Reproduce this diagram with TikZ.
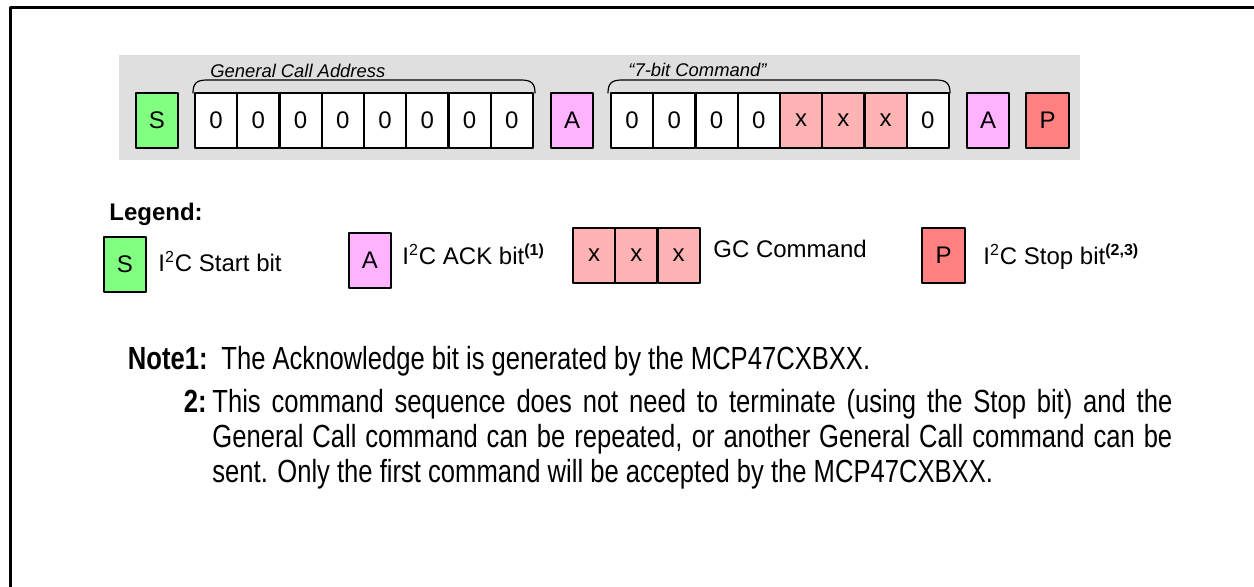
\documentclass[tikz,border=0pt]{standalone}
\usepackage{fontspec}
\setmainfont{Liberation Sans}
\newfontfamily\notefont[FakeStretch=0.80]{Liberation Sans}
\usetikzlibrary{positioning}
\definecolor{startgreen}{HTML}{80FF80}
\definecolor{ackpink}{HTML}{FFB3FF}
\definecolor{cmdred}{HTML}{FFB3B3}
\definecolor{stopred}{HTML}{FF8080}
\definecolor{bandgray}{HTML}{DFDFDF}
\begin{document}
\begin{tikzpicture}[x=0.5pt, y=-0.5pt, line cap=round, line join=round,
    font=\fontsize{12}{14}\selectfont]
	\tikzset{bitbox/.style={draw, line width=1pt, minimum width=21.1pt, minimum height=27.5pt, inner sep=0pt, outer sep=0pt},
		txt/.style={anchor=base west, inner sep=0pt},
		bracelbl/.style={txt, font=\itshape\fontsize{9.2}{11}\selectfont},
		notetext/.style={txt, font=\notefont\fontsize{16}{17.5}\selectfont},
		notelbl/.style={inner sep=0pt, anchor=base east, font=\notefont\bfseries\fontsize{16}{17.5}\selectfont}}
	\useasboundingbox (0,0) rectangle (1254,586);
	\draw[line width=1.5pt, line cap=butt] (10,590) -- (10,7) -- (1258,7);
	\fill[bandgray] (119,55) rectangle (1080,160);
	% frame bits
	\node[bitbox, fill=startgreen] (st) at (157,120.5) {S};
	\foreach \i in {1,...,8}
		\node[bitbox, fill=white] (ga\i) at ({195+21.125+42.25*(\i-1)},120.5) {0};
	\node[bitbox, fill=ackpink] (ack1) at (572,120.5) {A};
	\foreach \v/\c [count=\i] in {0/white,0/white,0/white,0/white,x/cmdred,x/cmdred,x/cmdred,0/white}
		\node[bitbox, fill=\c] (cb\i) at ({611+21.125+42.25*(\i-1)},120.5) {\v};
	\node[bitbox, fill=ackpink] (ack2) at (988,120.5) {A};
	\node[bitbox, fill=stopred] (sp) at (1047.5,120.5) {P};
	% braces
	\draw[line width=0.6pt] (193,93) .. controls (193,83) and (197,80) .. (207,80) -- (521,80) .. controls (531,80) and (535,83) .. (535,93);
	\draw[line width=0.6pt] (608,93) .. controls (608,83) and (612,80) .. (622,80) -- (936,80) .. controls (946,80) and (950,83) .. (950,93);
	\node[bracelbl] (galbl) at (210,77) {General Call Address};
	\node[bracelbl] (cmdlbl) at (628,76) {“7-bit Command”};
	% legend
	\node[txt, font=\bfseries\fontsize{12}{14}\selectfont] (leg) at (109,220) {Legend:};
	\node[bitbox, fill=startgreen] (lst) at (125,264) {S};
	\node[txt] (lsttxt) at (158,271) {I\textsuperscript{2}C Start bit};
	\node[bitbox, fill=ackpink] (lack) at (370,260) {A};
	\node[txt] (lacktxt) at (402,264) {I\textsuperscript{2}C ACK bit\textsuperscript{\bfseries(1)}};
	\foreach \i in {1,2,3}
		\node[bitbox, fill=cmdred] (lcb\i) at ({573+21.125+42.25*(\i-1)},255.5) {x};
	\node[txt] (lcbtxt) at (713,257) {GC Command};
	\node[bitbox, fill=stopred] (lsp) at (943.5,255.5) {P};
	\node[txt] (lsptxt) at (983,264) {I\textsuperscript{2}C Stop bit\textsuperscript{\bfseries(2,3)}};
	% notes
	\node[notelbl] (n1lbl) at (208,369) {Note1:};
	\node[notetext] (n1) at (221,369) {The Acknowledge bit is generated by the MCP47CXBXX.};
	\node[notelbl] (n2lbl) at (207,412) {2:};
	\node[notetext] (n2a) at (212,412) {\makebox[480pt][s]{This command sequence does not need to terminate (using the Stop bit) and the}};
	\node[notetext] (n2b) at (212,447) {\makebox[480pt][s]{General Call command can be repeated, or another General Call command can be}};
	\node[notetext] (n2c) at (212,482) {sent. Only the first command will be accepted by the MCP47CXBXX.};
\end{tikzpicture}
\end{document}
